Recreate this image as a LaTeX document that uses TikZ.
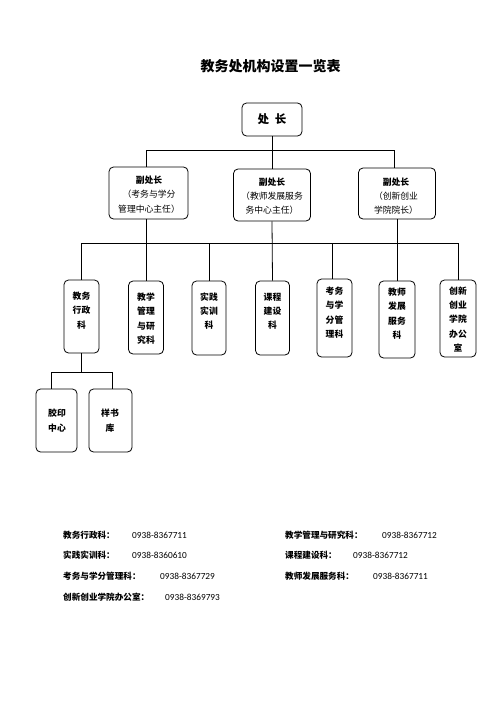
\documentclass[tikz,border=0pt]{standalone}
\usepackage{fontspec}
\newfontfamily\cjk{Noto Sans CJK SC}
\newfontfamily\num{Carlito}
\begin{document}
\begin{tikzpicture}[x=1pt,y=-1pt,
  box/.style={draw, rounded corners=4.5pt, line width=0.8pt, inner sep=0pt},
  line/.style={line width=0.8pt},
  vtxt/.style={inner sep=0pt, align=center, font=\cjk\fontsize{8.8}{14.3}\selectfont},
  bold/.style={inner sep=0pt, align=center, font=\cjk\bfseries\fontsize{8.8}{14.3}\selectfont},
  lab/.style={inner sep=0pt, anchor=west, font=\cjk\bfseries\fontsize{8.6}{10}\selectfont},
  tel/.style={inner sep=0pt, anchor=west, font=\num\fontsize{9.3}{10}\selectfont}]
\useasboundingbox (0,0) rectangle (500,725);
\fill[white] (0,0) rectangle (500,725);

\node[inner sep=0pt, font=\cjk\bfseries\fontsize{14}{16}\selectfont] (title) at (270.5,66) {教务处机构设置一览表};

% chief
\node[box, minimum width=60pt, minimum height=33pt, font=\cjk\bfseries\fontsize{11.5}{13}\selectfont] (chief) at (272,119.5) {处\hspace{6pt}长};

% vice boxes
\node[box, minimum width=79pt, minimum height=52pt] (v1) at (148.5,193) {};
\node[box, minimum width=77pt, minimum height=52pt] (v2) at (272,195) {};
\node[box, minimum width=77pt, minimum height=51pt] (v3) at (397,193.5) {};
\node[vtxt] (vt1) at (149,194.5) {{\bfseries 副处长}\\（考务与学分\\管理中心主任）};
\node[vtxt] (vt2) at (272,196) {{\bfseries 副处长}\\（教师发展服务\\务中心主任）};
\node[vtxt] (vt3) at (396,196) {{\bfseries 副处长}\\（创新创业\\学院院长）};

% department boxes
\node[box, minimum width=35pt, minimum height=73pt] (b1) at (81.5,316.5) {};
\node[box, minimum width=35pt, minimum height=73pt] (b2) at (146,317.5) {};
\node[box, minimum width=34pt, minimum height=74pt] (b3) at (209,318) {};
\node[box, minimum width=34pt, minimum height=74pt] (b4) at (272.5,318) {};
\node[box, minimum width=35pt, minimum height=78pt] (b5) at (334.5,318) {};
\node[box, minimum width=36pt, minimum height=77pt] (b6) at (397,319.5) {};
\node[box, minimum width=36pt, minimum height=77pt] (b7) at (458,318.5) {};
\node[bold] (t1) at (81.5,310.5) {教务\\行政\\科};
\node[bold] (t2) at (146,318.5) {教学\\管理\\与研\\究科};
\node[bold] (t3) at (209,311) {实践\\实训\\科};
\node[bold] (t4) at (272.5,311) {课程\\建设\\科};
\node[bold] (t5) at (334.5,312.5) {考务\\与学\\分管\\理科};
\node[bold] (t6) at (397,313.5) {教师\\发展\\服务\\科};
\node[bold] (t7) at (458,319.5) {创新\\创业\\学院\\办公\\室};

% sub boxes
\node[box, minimum width=41pt, minimum height=63pt] (s1) at (56.5,420.5) {};
\node[box, minimum width=43pt, minimum height=63pt] (s2) at (110.5,420.5) {};
\node[bold] (st1) at (57,420.5) {胶印\\中心};
\node[bold] (st2) at (110,420.5) {样书\\库};

% connectors
\coordinate (hL) at (146,150);
\coordinate (hR) at (394,150);
\draw[line] (chief.south) -- (v2.north);
\draw[line] (hL) -- (hR);
\draw[line] (hL) -- (hL |- v1.north);
\draw[line] (hR) -- (hR |- v3.north);

\coordinate (mL) at (81,243);
\coordinate (mR) at (458,243);
\draw[line] (mL) -- (mR);
\draw[line] (b2.north |- v1.south) -- (b2.north);
\draw[line] (v2.south) -- (b4.north);
\draw[line] (v3.south) -- (b6.north);
\draw[line] (mL) -- (mL |- b1.north);
\draw[line] (b3.north |- mL) -- (b3.north);
\draw[line] (332,243) -- (332,279);
\draw[line] (mR) -- (mR |- b7.north);

\coordinate (sm) at (81,372);
\coordinate (sL) at (51,372);
\coordinate (sR) at (112,372);
\draw[line] (b1.south -| sm) -- (sm);
\draw[line] (sL) -- (sR);
\draw[line] (sL) -- (sL |- s1.north);
\draw[line] (sR) -- (sR |- s2.north);

% phone list
\node[lab] (l1) at (63,535) {教务行政科：};
\node[tel] (n1) at (132,535) {0938-8367711};
\node[lab] (l2) at (285,535) {教学管理与研究科：};
\node[tel] (n2) at (382,535) {0938-8367712};
\node[lab] (l3) at (63,555.5) {实践实训科：};
\node[tel] (n3) at (132,555.5) {0938-8360610};
\node[lab] (l4) at (285,555.5) {课程建设科：};
\node[tel] (n4) at (353,555.5) {0938-8367712};
\node[lab] (l5) at (63,576) {考务与学分管理科：};
\node[tel] (n5) at (160,576) {0938-8367729};
\node[lab] (l6) at (285,576) {教师发展服务科：};
\node[tel] (n6) at (373,576) {0938-8367711};
\node[lab] (l7) at (63,597) {创新创业学院办公室：};
\node[tel] (n7) at (165,597) {0938-8369793};
\end{tikzpicture}
\end{document}
